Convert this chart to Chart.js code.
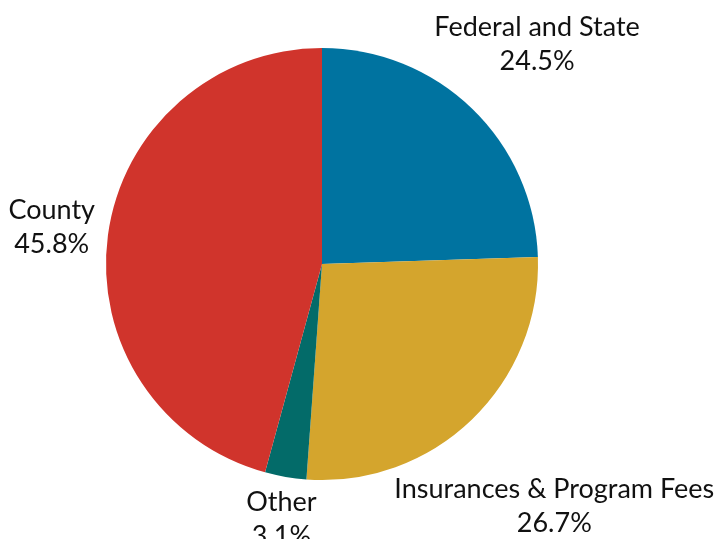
<!DOCTYPE html>
<html>
<head>
<meta charset="utf-8">
<script src="https://cdn.jsdelivr.net/npm/chart.js@4"></script>
<style>
  html, body { margin: 0; padding: 0; background: #fff; }
  #chart { display: block; }
</style>
</head>
<body>
<canvas id="chart" width="718" height="539"></canvas>
<script>
const categories = ['Federal and State', 'Insurances & Program Fees', 'Other', 'County'];
const shares = [24.5, 26.7, 3.1, 45.8];
const colors = ['#0073A0', '#D4A52D', '#036B69', '#D0342C'];

// where each label sits, as a fraction of the canvas (hand placed like the original)
const labelPos = [
    [0.748, 0.050],
    [0.772, 0.908],
    [0.392, 0.932],
    [0.072, 0.391]
];

const labelFont = '27px Lato, "Open Sans", sans-serif';

const labelPlugin = {
    id: 'sliceLabels',
    afterDraw(chart) {
        const ctx = chart.ctx;
        const w = chart.width, h = chart.height;
        ctx.save();
        ctx.font = labelFont;
        ctx.fillStyle = '#111';
        ctx.textAlign = 'center';
        ctx.textBaseline = 'middle';
        categories.forEach((name, i) => {
            const x = labelPos[i][0] * w;
            const y = labelPos[i][1] * h;
            ctx.fillText(name, x, y);
            ctx.fillText(shares[i].toFixed(1) + '%', x, y + 34);
        });
        ctx.restore();
    }
};

new Chart(document.getElementById('chart'), {
    type: 'pie',
    data: {
        labels: categories,
        datasets: [{
            data: shares,
            backgroundColor: colors,
            borderWidth: 0
        }]
    },
    options: {
        responsive: false,
        animation: false,
        layout: {
            padding: { top: 48, bottom: 59, left: 106, right: 180 }
        },
        plugins: {
            legend: { display: false },
            tooltip: { enabled: false }
        }
    },
    plugins: [labelPlugin]
});
</script>
</body>
</html>
